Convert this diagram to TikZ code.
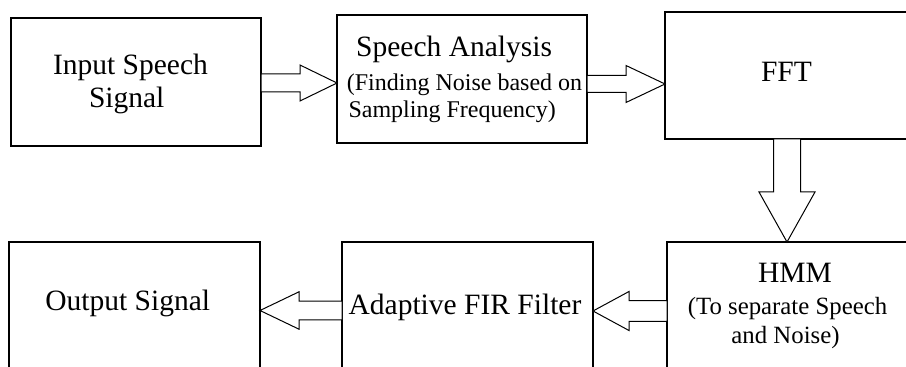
\documentclass[tikz,border=0pt]{standalone}
\usepackage{fontspec}
\setmainfont{Liberation Serif}
\usetikzlibrary{calc}
\tikzset{
  box/.style={draw, line width=1.3pt, minimum width=250pt, minimum height=128pt, inner sep=0pt, outer sep=0pt, anchor=north west},
  big/.style={font=\fontsize{29.5}{33}\selectfont, inner sep=0pt, anchor=base},
  small/.style={font=\fontsize{24.8}{29}\selectfont, inner sep=0pt, anchor=base},
  barrow/.style={draw, line width=1pt, fill=white, line join=miter}
}
% block arrows: #1 start, #2 tip, #3 shaft half width, #4 head half width, #5 head length
\newcommand\blockR[5]{\draw[barrow] let \p1=#1, \p2=#2 in (\x1,\y2+#3) -- (\x2-#5,\y2+#3) -- (\x2-#5,\y2+#4) -- (\x2,\y2) -- (\x2-#5,\y2-#4) -- (\x2-#5,\y2-#3) -- (\x1,\y2-#3) -- cycle;}
\newcommand\blockL[5]{\draw[barrow] let \p1=#1, \p2=#2 in (\x1,\y2+#3) -- (\x2+#5,\y2+#3) -- (\x2+#5,\y2+#4) -- (\x2,\y2) -- (\x2+#5,\y2-#4) -- (\x2+#5,\y2-#3) -- (\x1,\y2-#3) -- cycle;}
\newcommand\blockD[5]{\draw[barrow] let \p1=#1, \p2=#2 in (\x2-#3,\y1) -- (\x2-#3,\y2+#5) -- (\x2-#4,\y2+#5) -- (\x2,\y2) -- (\x2+#4,\y2+#5) -- (\x2+#3,\y2+#5) -- (\x2+#3,\y1) -- cycle;}
\begin{document}
\begin{tikzpicture}[x=1pt,y=1pt]
\clip (0,0) rectangle (906,367);
\fill[white] (0,0) rectangle (906,367);
% boxes
\node[box] (b1) at (11,349) {};
\node[box] (b2) at (337,352) {};
\node[box, minimum height=127pt] (b3) at (665,355) {};
\node[box, minimum width=251pt] (b4) at (9,125) {};
\node[box, minimum width=251pt] (b5) at (342,125) {};
\node[box, minimum width=251pt] (b6) at (667,125) {};
% texts
\node[big] (t1a) at (130.5,292) {Input Speech};
\node[big] (t1b) at (126.7,259) {Signal};
\node[big, anchor=base west] (t2a) at (356,310) {Speech Analysis};
\node[small, font=\fontsize{24}{29}\selectfont, anchor=base west] (t2b) at (346.7,276) {(Finding Noise based on};
\node[small, font=\fontsize{24}{29}\selectfont, anchor=base west] (t2c) at (348.3,249) {Sampling Frequency)};
\node[big] (t3) at (786.5,285) {FFT};
\node[big] (t4) at (127.7,56.3) {Output Signal};
\node[big] (t5) at (465,52.7) {Adaptive FIR Filter};
\node[big] (t6a) at (795,84.3) {HMM};
\node[small] (t6b) at (787.5,52) {(To separate Speech};
\node[small] (t6c) at (785.5,23.7) {and Noise)};
% arrows
\blockR{(b1.east)}{([yshift=-4pt]b2.west)}{9pt}{18pt}{37pt}
\blockR{(b2.east)}{([yshift=-8.5pt]b3.west)}{8.5pt}{18.5pt}{39pt}
\blockD{(b3.south)}{([xshift=-5.5pt]b6.north)}{13.5pt}{28pt}{50pt}
\blockL{(b6.west)}{([yshift=-5pt]b5.east)}{10.3pt}{19.5pt}{36pt}
\blockL{(b5.west)}{([yshift=-4.5pt]b4.east)}{9.3pt}{18.7pt}{39pt}
\end{tikzpicture}
\end{document}
